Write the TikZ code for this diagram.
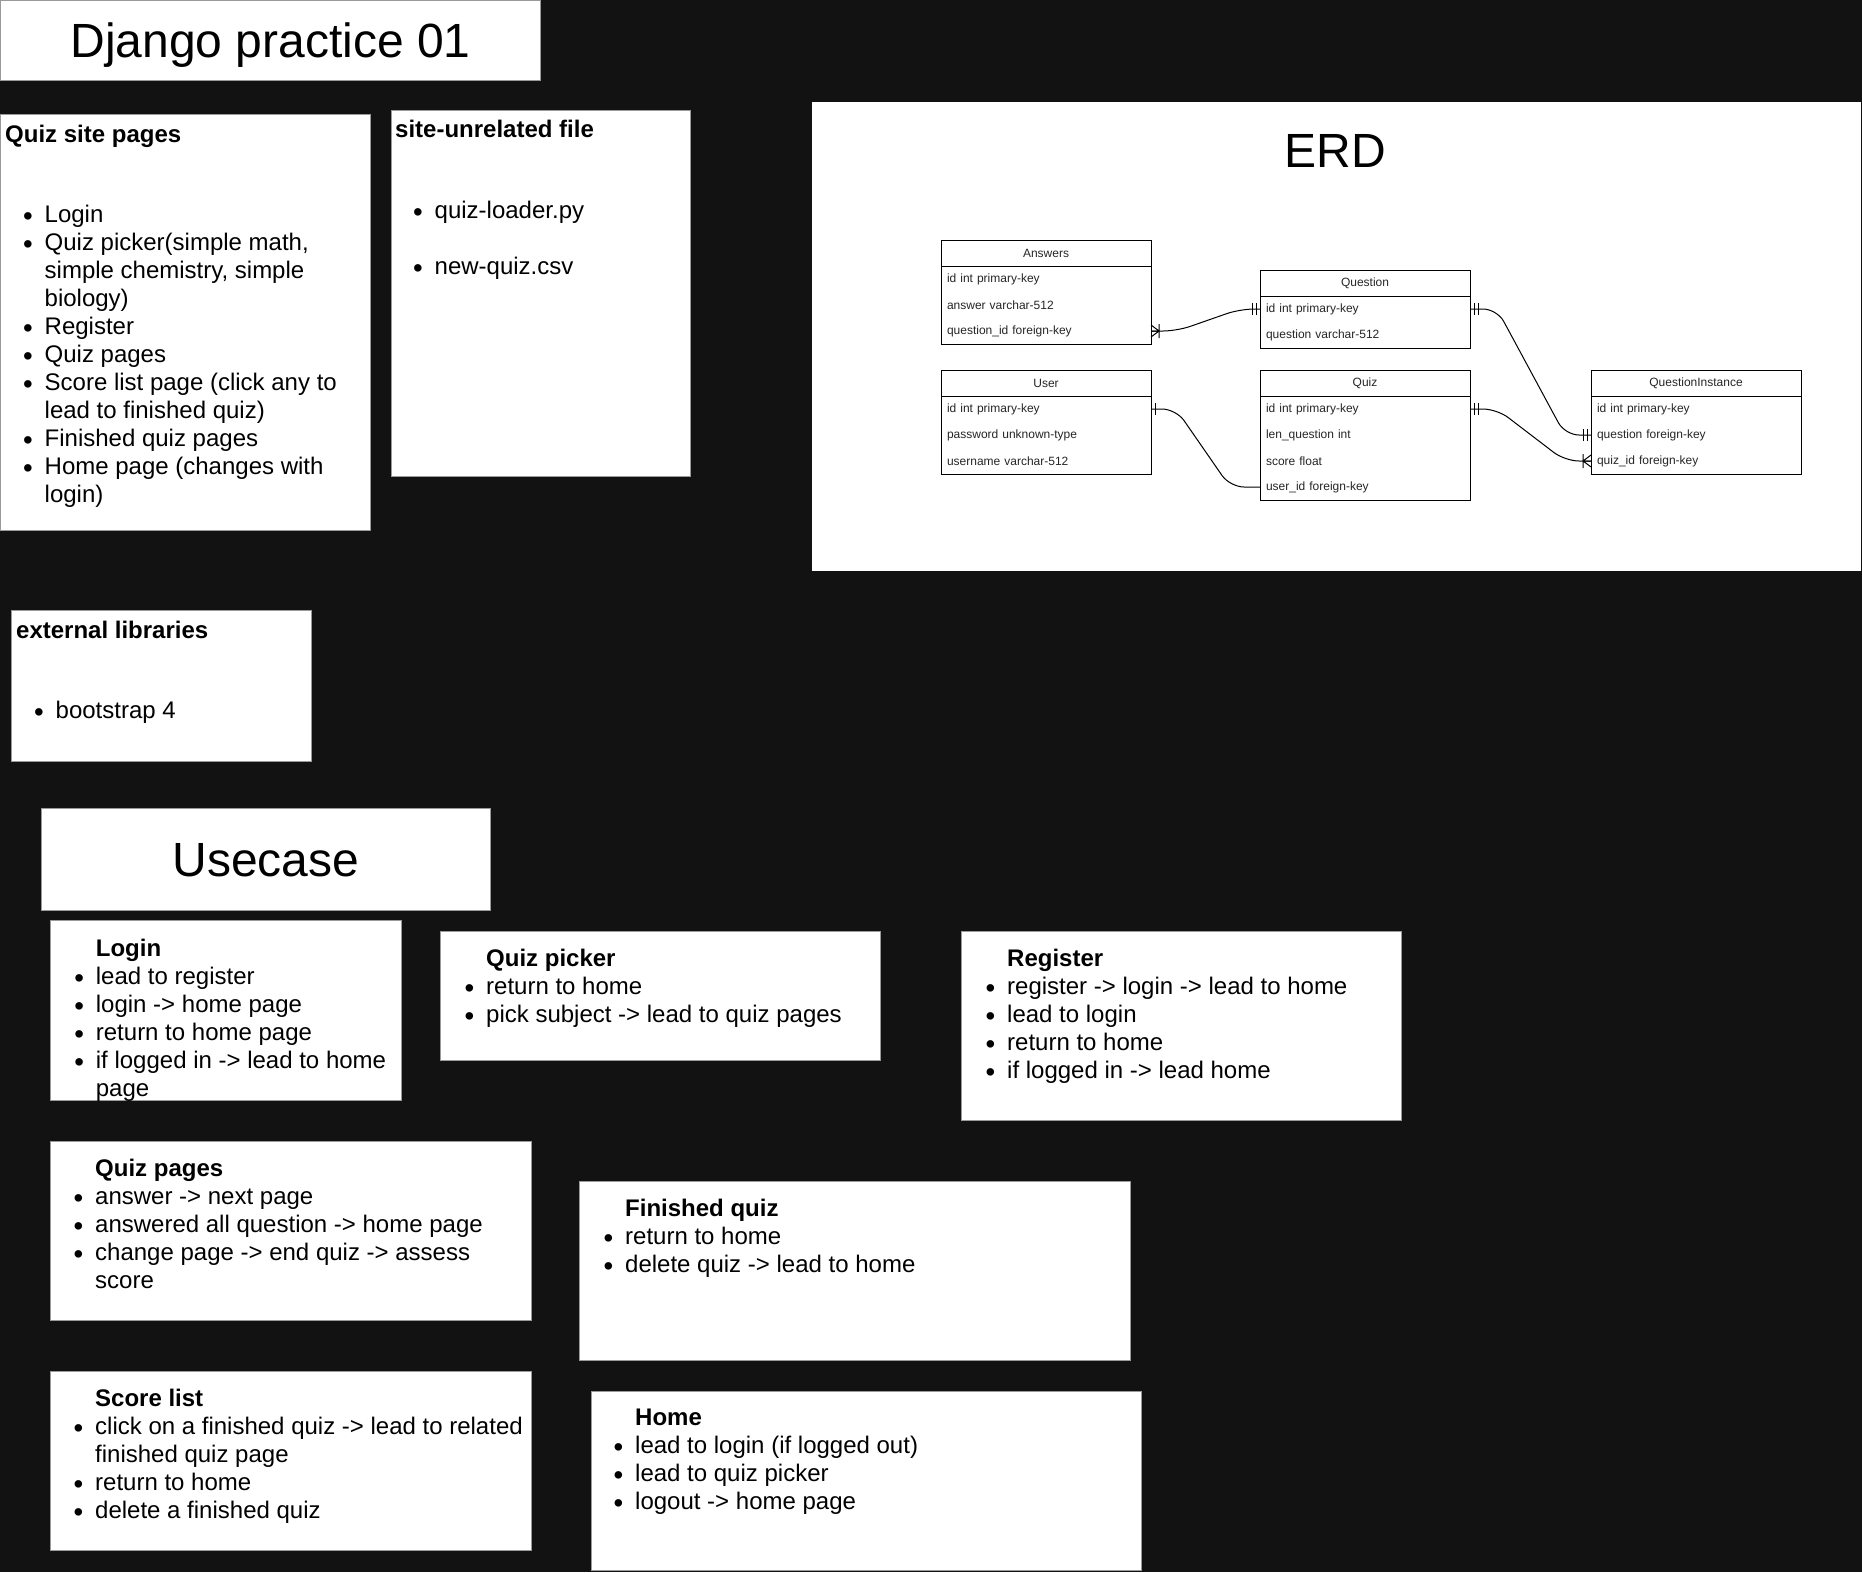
\documentclass[tikz,border=0pt]{standalone}
\usepackage{fontspec}
\setmainfont{Liberation Sans}
\usetikzlibrary{positioning, calc}
\definecolor{bgDark}{HTML}{121212}
\definecolor{panelLine}{HTML}{9A9A9A}
\tikzset{
  panel/.style={rectangle, anchor=north west, inner sep=0pt, fill=white, draw=panelLine, line width=1pt},
  bigTitle/.style={font=\fontsize{48}{56}\selectfont, text depth=0pt},
  noteText/.style={inner sep=0pt, align=left, font=\fontsize{24}{28}\selectfont},
  erHead/.style={rectangle, inner sep=0pt, outer sep=0pt, minimum width=210pt, minimum height=26pt, text=black!85, font=\fontsize{12}{14}\selectfont},
  erRow/.style={rectangle, inner xsep=6pt, inner ysep=0pt, outer sep=0pt, text width=198pt, align=left, minimum height=26pt, text=black!85, font=\fontsize{12}{14}\selectfont},
  erLine/.style={line width=1pt},
  erLink/.style={line width=1pt, rounded corners=14pt},
  pics/erOneMany/.style={code={\draw[erLine] (0,-6) -- (8,0) -- (0,6) (0,0) -- (8,0) (8,-7) -- (8,7);}},
  pics/erMandOne/.style={code={\draw[erLine] (4,-6) -- (4,6) (8,-6) -- (8,6);}},
  pics/erOne/.style={code={\draw[erLine] (4,-6) -- (4,6);}},
}
\newcommand{\bul}{\makebox[39.5pt][l]{\hspace{18pt}\raisebox{-2.8pt}{\scalebox{1.15}{\textbullet}}}}
\newcommand{\nob}{\makebox[39.5pt]{}}

\begin{document}
\begin{tikzpicture}[x=1pt, y=-1pt]
  \useasboundingbox (0,0) rectangle (1862,1572);
  \fill [bgDark] (0,0) rectangle (1862,1572);

  \node (titleBox) [panel, bigTitle, minimum width=540pt, minimum height=80pt] at (0,0) {Django practice 01};

  \node (sitePages) [panel, minimum width=370pt, minimum height=416pt] at (0,114) {};
  \node (sitePagesText) [noteText, below right=8.4pt and 5pt of sitePages.north west] {\strut\textbf{Quiz site pages}\\[52pt]
    \bul Login\\
    \bul Quiz picker(simple math,\\
    \nob simple chemistry, simple\\
    \nob biology)\\
    \bul Register\\
    \bul Quiz pages\\
    \bul Score list page (click any to\\
    \nob lead to finished quiz)\\
    \bul Finished quiz pages\\
    \bul Home page (changes with\\
    \nob login)};

  \node (siteFiles) [panel, minimum width=299pt, minimum height=366pt] at (391,110) {};
  \node (siteFilesText) [noteText, below right=7.4pt and 4pt of siteFiles.north west] {\strut\textbf{site-unrelated file}\\[53pt]
    \bul quiz-loader.py\\[28pt]
    \bul new-quiz.csv};

  \node (extLibs) [panel, minimum width=300pt, minimum height=151pt] at (11,610) {};
  \node (extLibsText) [noteText, below right=8.4pt and 5pt of extLibs.north west] {\strut\textbf{external libraries}\\[52pt]
    \bul bootstrap 4};

  \node (erdFrame) [panel, draw=none, minimum width=1049pt, minimum height=469pt] at (811,101) {};
  \node (erdTitle) [bigTitle, anchor=base] at (1335.5,167) {ERD};

  \node (ansHead) [erHead, anchor=north west] at (941,240) {Answers};
  \node (ansId) [erRow, below=0pt of ansHead] {id int primary-key};
  \node (ansText) [erRow, below=0pt of ansId] {answer varchar-512};
  \node (ansQid) [erRow, below=0pt of ansText] {question\_id foreign-key};
  \draw [erLine] (ansHead.north west) rectangle (ansQid.south east) (ansHead.south west) -- (ansHead.south east);

  \node (qstHead) [erHead, anchor=north west] at (1260,270) {Question};
  \node (qstId) [erRow, below=0pt of qstHead] {id int primary-key};
  \node (qstText) [erRow, below=0pt of qstId] {question varchar-512};
  \draw [erLine] (qstHead.north west) rectangle (qstText.south east) (qstHead.south west) -- (qstHead.south east);

  \node (userHead) [erHead, anchor=north west] at (941,370) {User};
  \node (userId) [erRow, below=0pt of userHead] {id int primary-key};
  \node (userPass) [erRow, below=0pt of userId] {password unknown-type};
  \node (userName) [erRow, below=0pt of userPass] {username varchar-512};
  \draw [erLine] (userHead.north west) rectangle (userName.south east) (userHead.south west) -- (userHead.south east);

  \node (quizHead) [erHead, anchor=north west] at (1260,370) {Quiz};
  \node (quizId) [erRow, below=0pt of quizHead] {id int primary-key};
  \node (quizLen) [erRow, below=0pt of quizId] {len\_question int};
  \node (quizScore) [erRow, below=0pt of quizLen] {score float};
  \node (quizUser) [erRow, below=0pt of quizScore] {user\_id foreign-key};
  \draw [erLine] (quizHead.north west) rectangle (quizUser.south east) (quizHead.south west) -- (quizHead.south east);

  \node (qiHead) [erHead, anchor=north west] at (1591,370) {QuestionInstance};
  \node (qiId) [erRow, below=0pt of qiHead] {id int primary-key};
  \node (qiQuestion) [erRow, below=0pt of qiId] {question foreign-key};
  \node (qiQuiz) [erRow, below=0pt of qiQuestion] {quiz\_id foreign-key};
  \draw [erLine] (qiHead.north west) rectangle (qiQuiz.south east) (qiHead.south west) -- (qiHead.south east);

  \draw [erLink] (ansQid.east) -- ++(26,0) -- ($(qstId.west)+(-20,0)$) -- (qstId.west);
  \pic at (ansQid.east) {erOneMany};
  \pic [xscale=-1] at (qstId.west) {erMandOne};
  \draw [erLink] (qstId.east) -- ++(27,0) -- ($(qiQuestion.west)+(-26,0)$) -- (qiQuestion.west);
  \pic at (qstId.east) {erMandOne};
  \pic [xscale=-1] at (qiQuestion.west) {erMandOne};
  \draw [erLink] (quizId.east) -- ++(27,0) -- ($(qiQuiz.west)+(-26,0)$) -- (qiQuiz.west);
  \pic at (quizId.east) {erMandOne};
  \pic [xscale=-1] at (qiQuiz.west) {erOneMany};
  \draw [erLink] (userId.east) -- ++(25,0) -- ($(quizUser.west)+(-30,0)$) -- (quizUser.west);
  \pic at (userId.east) {erOne};

  \node (usecaseBox) [panel, bigTitle, minimum width=449pt, minimum height=102pt] at (41,808) {Usecase};

  \node (loginBox) [panel, minimum width=351pt, minimum height=180pt] at (50,920) {};
  \node (loginText) [noteText, below right=16.4pt and 6.2pt of loginBox.north west] {\strut\nob\textbf{Login}\\
    \bul lead to register\\
    \bul login -> home page\\
    \bul return to home page\\
    \bul if logged in -> lead to home\\
    \nob page};

  \node (pickerBox) [panel, minimum width=440pt, minimum height=129pt] at (440,931) {};
  \node (pickerText) [noteText, below right=15.4pt and 6.5pt of pickerBox.north west] {\strut\nob\textbf{Quiz picker}\\
    \bul return to home\\
    \bul pick subject -> lead to quiz pages};

  \node (registerBox) [panel, minimum width=440pt, minimum height=189pt] at (961,931) {};
  \node (registerText) [noteText, below right=15.4pt and 6.5pt of registerBox.north west] {\strut\nob\textbf{Register}\\
    \bul register -> login -> lead to home\\
    \bul lead to login\\
    \bul return to home\\
    \bul if logged in -> lead home};

  \node (quizPagesBox) [panel, minimum width=481pt, minimum height=179pt] at (50,1141) {};
  \node (quizPagesText) [noteText, below right=15.4pt and 5.5pt of quizPagesBox.north west] {\strut\nob\textbf{Quiz pages}\\
    \bul answer -> next page\\
    \bul answered all question -> home page\\
    \bul change page -> end quiz -> assess\\
    \nob score};

  \node (finishedBox) [panel, minimum width=551pt, minimum height=179pt] at (579,1181) {};
  \node (finishedText) [noteText, below right=15.4pt and 6.5pt of finishedBox.north west] {\strut\nob\textbf{Finished quiz}\\
    \bul return to home\\
    \bul delete quiz -> lead to home};

  \node (scoreBox) [panel, minimum width=481pt, minimum height=179pt] at (50,1371) {};
  \node (scoreText) [noteText, below right=15.4pt and 5.5pt of scoreBox.north west] {\strut\nob\textbf{Score list}\\
    \bul click on a finished quiz -> lead to related\\
    \nob finished quiz page\\
    \bul return to home\\
    \bul delete a finished quiz};

  \node (homeBox) [panel, minimum width=550pt, minimum height=179pt] at (591,1391) {};
  \node (homeText) [noteText, below right=15pt and 4.5pt of homeBox.north west] {\strut\nob\textbf{Home}\\
    \bul lead to login (if logged out)\\
    \bul lead to quiz picker\\
    \bul logout -> home page};
\end{tikzpicture}
\end{document}
